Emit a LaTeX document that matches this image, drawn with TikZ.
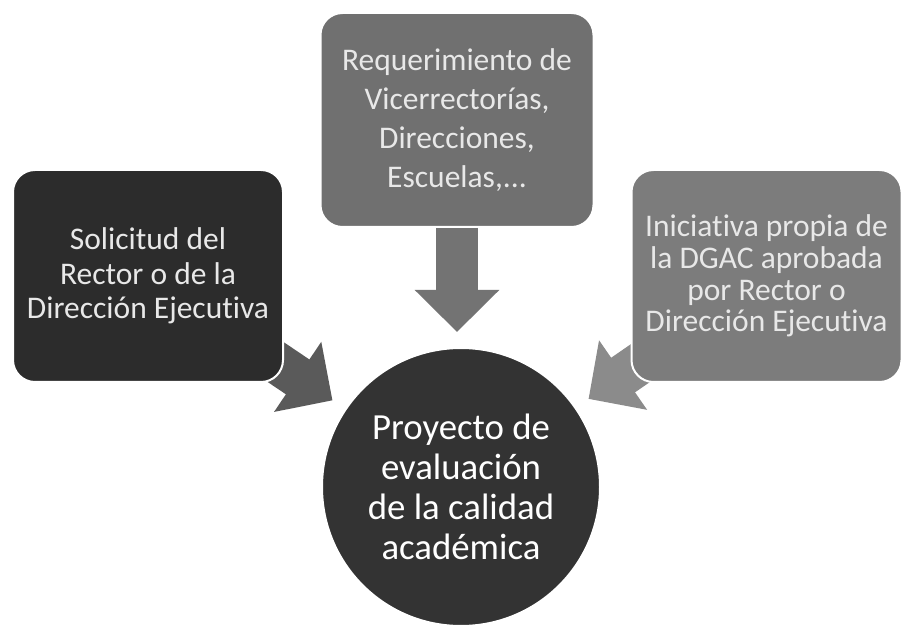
\documentclass[tikz,border=0pt]{standalone}
\usepackage{fontspec}
\setmainfont{Carlito}[Ligatures=NoCommon]
\usepackage{tikz}
\usetikzlibrary{arrows.meta,backgrounds}
\usepackage{xcolor}
\definecolor{solfill}{HTML}{2C2C2C}
\definecolor{reqfill}{HTML}{707070}
\definecolor{inifill}{HTML}{7C7C7C}
\definecolor{projfill}{HTML}{333333}
\definecolor{solarrow}{HTML}{5A5A5A}
\definecolor{reqarrow}{HTML}{737373}
\definecolor{iniarrow}{HTML}{8B8B8B}
\definecolor{boxtext}{HTML}{E8E8E8}

\begin{document}
\begin{tikzpicture}[
    x=0.5pt, y=-0.5pt,
    box/.style={rectangle, draw=white, line width=1pt, rounded corners=11pt, minimum width=135pt, minimum height=106pt, inner sep=0pt, align=center, text=boxtext},
    arr/.style={line width=21pt, -{Triangle[length=21pt, width=41pt]}, shorten >=7.5pt}
]
\node[box, fill=solfill, font=\fontsize{15.75}{17.25}\selectfont] (sol) at (148,276) {Solicitud del\\Rector o de la\\Dirección Ejecutiva};
\node[box, fill=reqfill, minimum width=136.5pt, minimum height=107pt, font=\fontsize{15.75}{19.5}\selectfont] (req) at (457,120) {Requerimiento de\\Vicerrectorías,\\Direcciones,\\Escuelas,...};
\node[box, fill=inifill, font=\fontsize{15.75}{15.9}\selectfont] (ini) at (766.5,276) {Iniciativa propia de\\la DGAC aprobada\\por Rector o\\Dirección Ejecutiva};
\node[circle, draw=white, line width=1pt, fill=projfill, minimum size=139pt, inner sep=0pt, align=center, text=white, font=\fontsize{18.4}{20}\selectfont] (proj) at (461,487) {Proyecto de\\evaluación\\de la calidad\\académica};
\draw[arr, reqarrow] (req.south) -- (req.south |- proj.north);
% side arrows go behind the boxes
\begin{scope}[on background layer]
\fill[white] (0,0) rectangle (922,636);
\draw[arr, solarrow] (sol.center) -- (proj);
\draw[arr, iniarrow] (ini.center) -- (proj);
\end{scope}
\useasboundingbox (0,0) rectangle (922,636);
\end{tikzpicture}
\end{document}
